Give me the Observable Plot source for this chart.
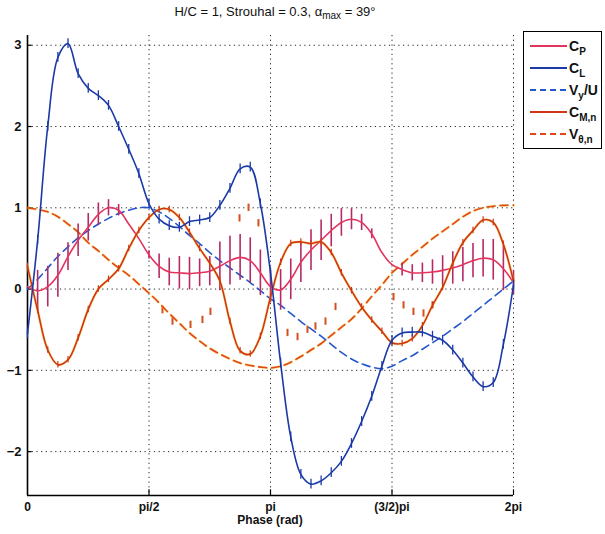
<!DOCTYPE html>
<html><head><meta charset="utf-8">
<script src="https://cdn.jsdelivr.net/npm/d3@7"></script>
<script src="https://cdn.jsdelivr.net/npm/@observablehq/plot@0.6"></script>
<style>
body{margin:0;background:#fff;font-family:"Liberation Sans",Arial,Helvetica,sans-serif;}
#wrap{position:relative;width:605px;height:534px;overflow:hidden;}
#chart{position:absolute;left:0;top:0;}
#title{position:absolute;top:4px;left:75px;width:400px;text-align:center;font-size:13px;color:#111;}
#title sub{font-size:10px;vertical-align:-3px;line-height:0;}
#xlabel{position:absolute;top:513px;left:170px;width:200px;text-align:center;font-size:12px;font-weight:bold;color:#111;}
#legend{position:absolute;left:523px;top:31px;width:79px;height:118px;border:1px solid #000;background:#fff;box-sizing:border-box;}
.row{position:absolute;left:6px;height:18px;display:flex;align-items:center;}
.row svg{width:37px;height:6px;}
.row span{margin-left:2px;font-size:14px;font-weight:bold;color:#111;white-space:nowrap;}
.row sub{font-size:10px;vertical-align:-4px;line-height:0;}
</style></head><body>
<div id="wrap">
<div id="chart"></div>
<div id="title">H/C = 1, Strouhal = 0.3, α<sub>max</sub> = 39°</div>
<div id="xlabel">Phase (rad)</div>
<div id="legend"></div>
</div>
<script>
// sample grid: index i -> phase i*pi/24 (49 samples over 0..2pi)
const xTickVals = [0, Math.PI/2, Math.PI, 1.5*Math.PI, 2*Math.PI];
const xTickLabels = ["0", "pi/2", "pi", "(3/2)pi", "2pi"];
const yTicks = [-2, -1, 0, 1, 2, 3];

const cP = [0.03,-0.02,0.03,0.17,0.40,0.60,0.76,0.92,1.00,0.97,0.80,0.62,0.42,0.28,0.21,0.20,0.19,0.20,0.22,0.28,0.35,0.39,0.35,0.20,0.03,-0.01,0.12,0.33,0.48,0.60,0.72,0.82,0.86,0.82,0.68,0.45,0.30,0.24,0.20,0.20,0.21,0.23,0.26,0.30,0.35,0.38,0.36,0.25,0.08];
const cPerr = [0,0.25,0.25,0.27,0.17,0.20,0.17,0.14,0.10,0.07,0,0,0.05,0.15,0.17,0.20,0.20,0.17,0.18,0.30,0.30,0.28,0.28,0.28,0.20,0.25,0.25,0.25,0.25,0.25,0.20,0.17,0.13,0.10,0.06,0,0,0.08,0.10,0.12,0.15,0.18,0.20,0.21,0.21,0.23,0.25,0.27,0.15];
const cL = [-0.55,0.60,2.00,2.85,3.02,2.65,2.47,2.38,2.26,2.00,1.72,1.42,1.05,0.86,0.78,0.76,0.83,0.85,0.88,1.03,1.24,1.48,1.50,1.05,0.20,-0.91,-1.82,-2.28,-2.40,-2.36,-2.26,-2.12,-1.90,-1.63,-1.32,-0.95,-0.63,-0.54,-0.53,-0.53,-0.58,-0.63,-0.75,-0.91,-1.08,-1.20,-1.15,-0.68,0.05];
const vyU = [0.00,0.12,0.26,0.40,0.52,0.63,0.72,0.80,0.87,0.93,0.97,1.00,1.00,0.95,0.87,0.77,0.66,0.56,0.45,0.35,0.26,0.17,0.08,-0.02,-0.12,-0.20,-0.30,-0.40,-0.49,-0.58,-0.68,-0.78,-0.86,-0.92,-0.96,-0.98,-0.95,-0.88,-0.82,-0.74,-0.66,-0.58,-0.49,-0.40,-0.30,-0.20,-0.10,0.00,0.10];
const cMn = [0.28,-0.26,-0.75,-0.93,-0.87,-0.60,-0.25,0.00,0.12,0.25,0.50,0.72,0.88,0.98,0.98,0.88,0.70,0.50,0.32,0.10,-0.40,-0.76,-0.80,-0.58,-0.10,0.33,0.56,0.58,0.56,0.58,0.45,0.20,-0.02,-0.22,-0.38,-0.52,-0.66,-0.67,-0.61,-0.45,-0.20,0.02,0.32,0.57,0.72,0.85,0.82,0.55,0.10];
const vThn = [1.00,0.98,0.95,0.89,0.80,0.70,0.57,0.47,0.36,0.26,0.17,0.06,-0.05,-0.17,-0.30,-0.42,-0.54,-0.64,-0.73,-0.80,-0.86,-0.91,-0.94,-0.96,-0.97,-0.95,-0.90,-0.83,-0.75,-0.67,-0.57,-0.47,-0.37,-0.24,-0.09,0.05,0.20,0.31,0.42,0.52,0.62,0.71,0.80,0.89,0.96,1.00,1.02,1.03,1.03];
// stray orange tick marks (sample-index position, value)
const strayIdx = [13.33,14.32,16.1,17.28,18.07,20.94,21.83,22.81,25.68,26.67,27.65,28.44,29.43,30.42,36.15,37.14,38.12,39.11,40.0];
const strayVal = [-0.26,-0.40,-0.44,-0.38,-0.28,0.87,1.00,0.81,-0.54,-0.59,-0.50,-0.46,-0.40,-0.22,-0.10,-0.20,-0.28,-0.30,-0.20];

const colors = {cp:"#e3335f", cpErr:"#b52a66", cl:"#1b3aa8", vy:"#2456cc", cm:"#cf3516", vt:"#e2461a", stray:"#d4501e", halo:"#f2c400"};

const phaseOf = i => i*Math.PI/24;
const mk = (arr, err) => arr.map((v,i)=>({x:phaseOf(i), y:v, e: err ? (typeof err==="number"? err : err[i]) : 0}));
const dCP = mk(cP, cPerr), dCL = mk(cL, 0.06), dVY = mk(vyU), dCM = mk(cMn, 0.04), dVT = mk(vThn);
const dStray = strayIdx.map((s,k)=>({x:phaseOf(s), y:strayVal[k]}));

const yDom = [-2.54, 3.12];
const sw = 1.6;
const fmtY = d => d < 0 ? "\u2212" + Math.abs(d) : String(d);
const chart = Plot.plot({
  width:605, height:534,
  marginLeft:27, marginRight:92, marginTop:35, marginBottom:39,
  style:{fontFamily:"'Liberation Sans', Arial, sans-serif", fontSize:"12px", fontWeight:"bold", color:"#111", background:"transparent"},
  x:{domain:[0,2*Math.PI]},
  y:{domain:yDom},
  marks:[
    Plot.gridX(xTickVals.slice(1), {stroke:"#222", strokeOpacity:1, strokeWidth:1, strokeDasharray:"1.2,3.5"}),
    Plot.gridY(yTicks, {stroke:"#222", strokeOpacity:1, strokeWidth:1, strokeDasharray:"1.2,3.5"}),
    Plot.axisX(xTickVals, {tickSize:0, tickPadding:7, label:null, tickFormat:d=>xTickLabels[xTickVals.indexOf(d)], fontWeight:"bold", fontSize:12}),
    Plot.axisY(yTicks, {tickSize:0, tickPadding:6, label:null, tickFormat:fmtY, fontWeight:"bold", fontSize:13}),
    // small inward ticks
    Plot.ruleX(xTickVals.slice(1), {y1:yDom[0], y2:yDom[0]+0.07, stroke:"#000", strokeWidth:1.2}),
    Plot.ruleY(yTicks, {x1:0, x2:0.06, stroke:"#000", strokeWidth:1.2}),
    Plot.ruleX([0], {stroke:"#000", strokeWidth:1.6}),
    Plot.ruleY([yDom[0]], {stroke:"#000", strokeWidth:1.6}),
    // stray ticks
    Plot.ruleX(dStray, {x:"x", y1:d=>d.y-0.045, y2:d=>d.y+0.045, stroke:colors.stray, strokeWidth:2}),
    // V_theta,n dashed
    Plot.line(dVT, {x:"x", y:"y", stroke:colors.halo, strokeWidth:2.8, strokeOpacity:0.4, strokeDasharray:"8,5", curve:"catmull-rom"}),
    Plot.line(dVT, {x:"x", y:"y", stroke:colors.vt, strokeWidth:sw, strokeDasharray:"8,5", curve:"catmull-rom"}),
    // V_y/U dashed
    Plot.line(dVY, {x:"x", y:"y", stroke:colors.vy, strokeWidth:sw, strokeDasharray:"8,5", curve:"catmull-rom"}),
    // C_P with error bars
    Plot.ruleX(dCP.filter(d=>d.e>0), {x:"x", y1:d=>d.y-d.e, y2:d=>d.y+d.e, stroke:colors.cpErr, strokeWidth:1.6}),
    Plot.line(dCP, {x:"x", y:"y", stroke:colors.cp, strokeWidth:sw, curve:"catmull-rom"}),
    // C_M,n
    Plot.line(dCM, {x:"x", y:"y", stroke:colors.halo, strokeWidth:2.8, strokeOpacity:0.4, curve:"catmull-rom"}),
    Plot.ruleX(dCM, {x:"x", y1:d=>d.y-d.e, y2:d=>d.y+d.e, stroke:colors.cm, strokeWidth:1.2}),
    Plot.line(dCM, {x:"x", y:"y", stroke:colors.cm, strokeWidth:sw, curve:"catmull-rom"}),
    // C_L
    Plot.ruleX(dCL, {x:"x", y1:d=>d.y-d.e, y2:d=>d.y+d.e, stroke:colors.cl, strokeWidth:1.3}),
    Plot.line(dCL, {x:"x", y:"y", stroke:colors.cl, strokeWidth:sw, curve:"catmull-rom"})
  ]
});
document.getElementById("chart").appendChild(chart);

// legend
const legendItems = [
  {label:"C<sub>P</sub>", color:colors.cp, dash:null},
  {label:"C<sub>L</sub>", color:colors.cl, dash:null},
  {label:"V<sub>y</sub>/U", color:colors.vy, dash:"6,4"},
  {label:"C<sub>M,n</sub>", color:colors.cm, dash:null},
  {label:"V<sub>θ,n</sub>", color:colors.vt, dash:"6,4"}
];
const lg = document.getElementById("legend");
legendItems.forEach((it,k)=>{
  const row = document.createElement("div");
  row.className = "row";
  row.style.top = (5 + k*22) + "px";
  row.innerHTML = `<svg viewBox="0 0 37 6"><line x1="0" y1="3" x2="37" y2="3" stroke="${it.color}" stroke-width="1.8" ${it.dash?`stroke-dasharray="${it.dash}"`:""}/></svg><span>${it.label}</span>`;
  lg.appendChild(row);
});
</script>
</body></html>
